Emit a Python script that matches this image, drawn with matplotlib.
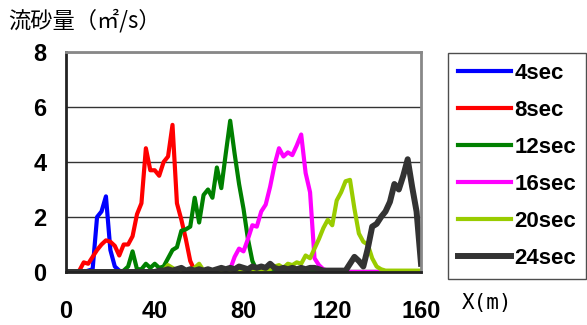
import matplotlib
matplotlib.use('Agg')
import matplotlib.pyplot as plt
import numpy as np

# 距離 X (m), 2m刻み
x = np.arange(0, 161, 2)

# 各時刻の流砂量 (m2/s)
q_4sec = [
    0, 0, 0, 0, 0, 0.05, 0.1, 2.0, 2.2, 2.75,
    0.8, 0.2, 0.05, 0, 0, 0, 0, 0, 0, 0,
    0, 0, 0, 0, 0, 0, 0, 0, 0, 0,
    0, 0, 0, 0, 0, 0, 0, 0, 0, 0,
    0, 0, 0, 0, 0, 0, 0, 0, 0, 0,
    0, 0, 0, 0, 0, 0, 0, 0, 0, 0,
    0, 0, 0, 0, 0, 0, 0, 0, 0, 0,
    0, 0, 0, 0, 0, 0, 0, 0, 0, 0,
    0]
q_8sec = [
    0, 0, 0, 0.05, 0.35, 0.3, 0.55, 0.8, 1.0, 1.15,
    1.1, 0.95, 0.6, 1.0, 1.0, 1.3, 2.1, 2.5, 4.5, 3.7,
    3.7, 3.5, 4.0, 4.2, 5.35, 2.5, 1.9, 1.2, 0.4, 0.05,
    0, 0, 0, 0, 0, 0, 0, 0, 0, 0,
    0, 0, 0, 0, 0, 0, 0, 0, 0, 0,
    0, 0, 0, 0, 0, 0, 0, 0, 0, 0,
    0, 0, 0, 0, 0, 0, 0, 0, 0, 0,
    0, 0, 0, 0, 0, 0, 0, 0, 0, 0,
    0]
q_12sec = [
    0, 0, 0, 0, 0, 0, 0, 0, 0, 0,
    0, 0, 0, 0.05, 0.2, 0.75, 0.1, 0.1, 0.3, 0.15,
    0.3, 0.15, 0.2, 0.5, 0.8, 0.9, 1.5, 1.55, 1.65, 2.7,
    1.8, 2.8, 3.0, 2.7, 3.8, 3.05, 4.3, 5.5, 4.3, 3.2,
    2.3, 1.2, 0.4, 0.05, 0, 0, 0, 0, 0, 0,
    0, 0, 0, 0, 0, 0, 0, 0, 0, 0,
    0, 0, 0, 0, 0, 0, 0, 0, 0, 0,
    0, 0, 0, 0, 0, 0, 0, 0, 0, 0,
    0]
q_16sec = [
    0, 0, 0, 0, 0, 0, 0, 0, 0, 0,
    0, 0, 0, 0, 0, 0, 0, 0, 0, 0,
    0, 0, 0, 0.05, 0, 0, 0, 0, 0, 0,
    0, 0, 0, 0, 0, 0.05, 0.05, 0.1, 0.55, 0.85,
    0.75, 1.2, 1.7, 1.65, 2.2, 2.45, 3.1, 3.9, 4.5, 4.2,
    4.35, 4.25, 4.6, 5.0, 3.6, 2.9, 0.5, 0.25, 0.1, 0.05,
    0, 0, 0, 0, 0, 0, 0, 0, 0, 0,
    0, 0, 0, 0, 0, 0, 0, 0, 0, 0,
    0]
q_20sec = [
    0, 0, 0, 0, 0, 0, 0, 0, 0, 0,
    0, 0, 0, 0, 0, 0, 0, 0, 0, 0,
    0, 0, 0.05, 0.25, 0.15, 0.05, 0.05, 0.05, 0.05, 0.15,
    0.3, 0.05, 0.05, 0.05, 0.05, 0.05, 0.05, 0.05, 0.05, 0.05,
    0.05, 0.05, 0.05, 0.05, 0.05, 0.05, 0.1, 0.2, 0.25, 0.15,
    0.3, 0.25, 0.35, 0.3, 0.6, 0.5, 0.85, 1.2, 1.6, 1.9,
    1.7, 2.6, 2.9, 3.3, 3.35, 2.3, 1.4, 1.1, 1.0, 0.5,
    0.2, 0.1, 0.05, 0.05, 0.05, 0.05, 0.05, 0.05, 0.05, 0.05,
    0.05]
q_24sec = [
    0, 0, 0, 0, 0, 0, 0, 0, 0, 0,
    0, 0, 0, 0, 0, 0, 0, 0, 0, 0,
    0, 0.05, 0.05, 0.1, 0.05, 0.1, 0.15, 0.05, 0.1, 0.05,
    0.1, 0.05, 0.1, 0.05, 0.1, 0.15, 0.1, 0.15, 0.1, 0.2,
    0.15, 0.1, 0.2, 0.15, 0.2, 0.15, 0.3, 0.15, 0.1, 0.15,
    0.1, 0.15, 0.1, 0.15, 0.1, 0.15, 0.15, 0.1, 0.05, 0.05,
    0.05, 0.05, 0.05, 0.05, 0.3, 0.55, 0.4, 0.2, 0.85, 1.65,
    1.75, 2.0, 2.2, 2.55, 3.2, 3.0, 3.5, 4.1, 3.1, 2.2,
    0.3]

series = [q_4sec, q_8sec, q_12sec, q_16sec, q_20sec, q_24sec]
labels = ['4sec', '8sec', '12sec', '16sec', '20sec', '24sec']
colors = ['#0000FF', '#FF0000', '#008000', '#FF00FF', '#99CC00', '#333333']
widths = [3.0, 3.0, 3.0, 3.0, 3.0, 4.3]

fig = plt.figure(figsize=(5.87, 3.25), dpi=100)
ax = fig.add_axes([66/587, 1 - 272/325, (421-66)/587, (272-52)/325])

for y, lab, c, lw in zip(series, labels, colors, widths):
    ax.plot(x, y, color=c, lw=lw, label=lab)

ax.set_xlim(0, 160)
ax.set_ylim(0, 8)
ax.set_xticks([0, 40, 80, 120, 160])
ax.set_yticks([0, 2, 4, 6, 8])
ax.grid(axis='y', color='#333333', lw=1.0)
ax.set_axisbelow(True)

tick_font = {'family': 'Liberation Sans', 'weight': 'bold', 'size': 17}
ax.set_xticklabels(['0', '40', '80', '120', '160'], fontdict=tick_font)
ax.set_yticklabels(['0', '2', '4', '6', '8'], fontdict=tick_font)
ax.tick_params(axis='x', length=0, pad=20)
ax.tick_params(axis='y', length=0, pad=14)

for s in ['left', 'bottom']:
    ax.spines[s].set_color('#222222')
    ax.spines[s].set_linewidth(2)
for s in ['top', 'right']:
    ax.spines[s].set_color('#888888')
    ax.spines[s].set_linewidth(2)

leg = fig.legend(loc='upper left', bbox_to_anchor=(448/587, 1 - 53/325),
                 prop={'family': 'Liberation Sans', 'weight': 'bold', 'size': 16},
                 frameon=True, fancybox=False, edgecolor='#222222',
                 handlelength=2.4, handletextpad=0.15, labelspacing=0.72,
                 borderpad=0.45, borderaxespad=0)
leg.get_frame().set_linewidth(1.0)

fig.text(8/587, 1 - 21/325, '流砂量（㎡/s）', fontsize=16,
         family=['Noto Sans CJK JP', 'DejaVu Sans'], va='center', ha='left')
fig.text(462/587, 1 - 303/325, 'X(m)', fontsize=15,
         family='DejaVu Sans Mono', va='center', ha='left')

fig.savefig('out.png', dpi=100)
